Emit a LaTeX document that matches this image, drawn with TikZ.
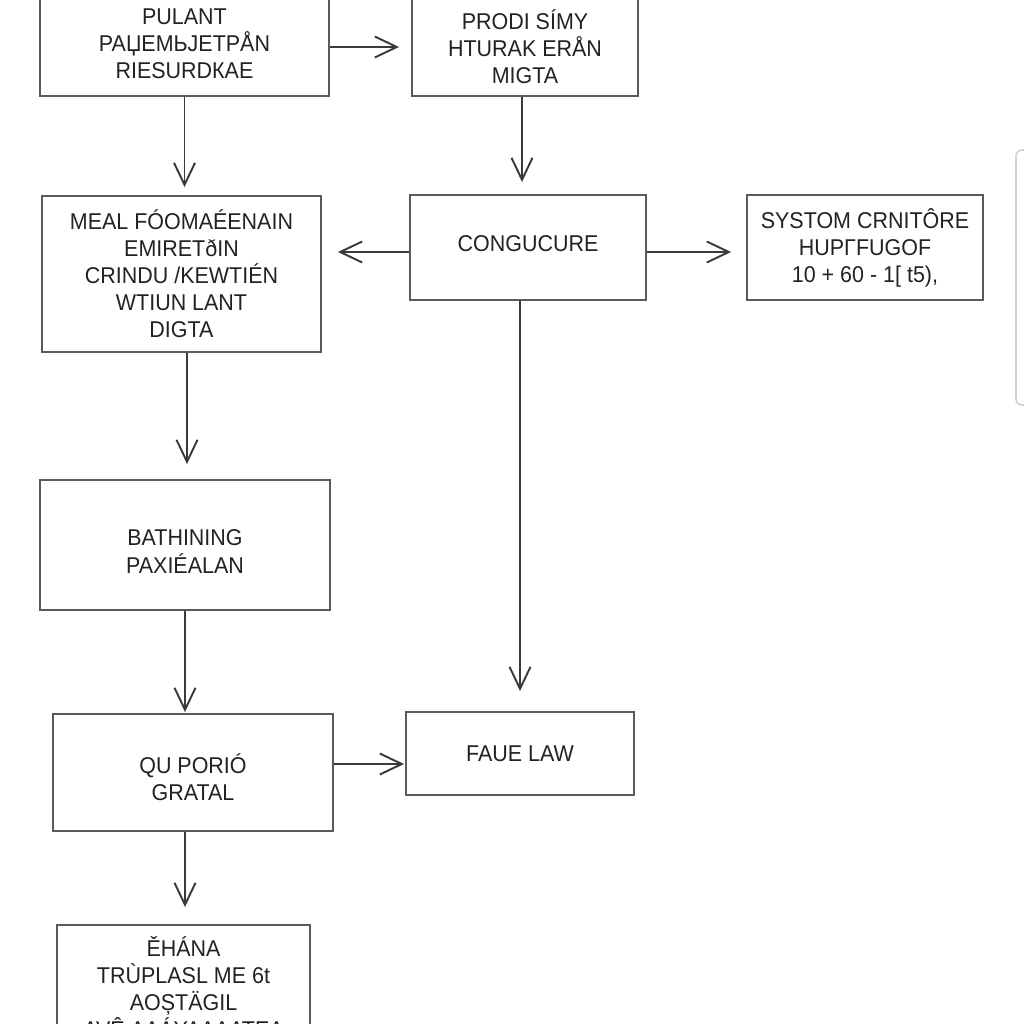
\documentclass[tikz,border=0pt]{standalone}
\usepackage{xcolor}
\usepackage{fontspec}
\setmainfont[FakeStretch=0.94]{Liberation Sans}
\usepackage{tikz}
\usetikzlibrary{arrows.meta}

\definecolor{boxline}{HTML}{5A5A5A}
\definecolor{arrline}{HTML}{3A3A3A}
\definecolor{txt}{HTML}{222222}
\newcommand{\boxtext}[2]{\raisebox{#1}[0pt][0pt]{\begin{tabular}{@{}c@{}}#2\end{tabular}}}

\begin{document}
\begin{tikzpicture}[x=0.02cm,y=-0.02cm,
  box/.style={draw=boxline,line width=1.1pt,align=center,text=txt,
    font=\fontsize{13}{15.4}\selectfont,inner sep=0pt},
  arr/.style={draw=arrline,line width=1.1pt,
    -{Straight Barb[length=0.44cm,width=0.42cm,line width=1.1pt]}}]
\useasboundingbox (0,0) rectangle (1024,1024);
\fill[white] (0,0) rectangle (1024,1024);
\begin{scope}
\clip (0,0) rectangle (1024,1024);
  \node[box,minimum width=5.78cm,minimum height=2.08cm] (pulant) at (184.5,44)
    {PULANT\\PAЏEMЬJETPÅN\\RIESURDКAE};
  \node[box,minimum width=4.52cm,minimum height=1.96cm] (prodi) at (525,47)
    {PRODI SÍMY\\HTURAK ERÅN\\MIGTA};
  \node[box,minimum width=5.58cm,minimum height=3.12cm] (meal) at (181.5,274)
    {MEAL FÓOMAÉENAIN\\EMIRETðIN\\CRINDU /KEWTIÉN\\WTIUN LANT\\DIGTA};
  \node[box,minimum width=4.72cm,minimum height=2.1cm] (cong) at (528,247.5)
    {\boxtext{-0.08cm}{CONGUCURE}};
  \node[box,minimum width=4.72cm,minimum height=2.1cm] (systom) at (865,247.5)
    {SYSTOM CRNITÔRE\\HUPΓFUGOF\\10 + 60 - 1[ t5),};
  \node[box,minimum width=5.8cm,minimum height=2.6cm] (bath) at (185,545)
    {\boxtext{-0.29cm}{BATHINING\\PAXIÉALAN}};
  \node[box,minimum width=5.6cm,minimum height=2.34cm] (qu) at (193,772.5)
    {\boxtext{-0.28cm}{QU PORIÓ\\GRATAL}};
  \node[box,minimum width=4.56cm,minimum height=1.66cm] (faue) at (520,753.5)
    {FAUE LAW};
  \node[box,minimum width=5.06cm,minimum height=2.48cm] (ehana) at (183.5,987)
    {ĚHÁNA\\TRÙPLASL ME 6t\\AOȘTÄGIL\\AVÊ AAÁYAAAATEA};
  % side frame at the right edge
  \draw[gray!35,line width=0.9pt,rounded corners=0.12cm] (1016,150) rectangle (1060,405);
  % arrows
  \draw[arr,shorten >=0.24cm] ([yshift=-0.06cm]pulant.east) -- ([yshift=-0.06cm]pulant.east -| prodi.west);
  \draw[arr,shorten >=0.16cm] (pulant.south) -- (pulant.south |- meal.north);
  \draw[arr,shorten >=0.24cm] ([xshift=-0.06cm]prodi.south) -- ([xshift=-0.06cm]prodi.south |- cong.north);
  \draw[arr,shorten >=0.32cm] ([yshift=-0.09cm]cong.west) -- ([yshift=-0.09cm]cong.west -| meal.east);
  \draw[arr,shorten >=0.3cm] ([yshift=-0.09cm]cong.east) -- ([yshift=-0.09cm]cong.east -| systom.west);
  \draw[arr,shorten >=0.3cm] ([xshift=0.11cm]meal.south) -- ([xshift=0.11cm]meal.south |- bath.north);
  \draw[arr,shorten >=0.4cm] ([xshift=-0.16cm]cong.south) -- ([xshift=-0.16cm]cong.south |- faue.north);
  \draw[arr,shorten >=0.02cm] (bath.south) -- (bath.south |- qu.north);
  \draw[arr,shorten >=0.02cm] ([yshift=0.17cm]qu.east) -- ([yshift=0.17cm]qu.east -| faue.west);
  \draw[arr,shorten >=0.34cm] ([xshift=-0.16cm]qu.south) -- ([xshift=-0.16cm]qu.south |- ehana.north);
\end{scope}
\end{tikzpicture}
\end{document}
